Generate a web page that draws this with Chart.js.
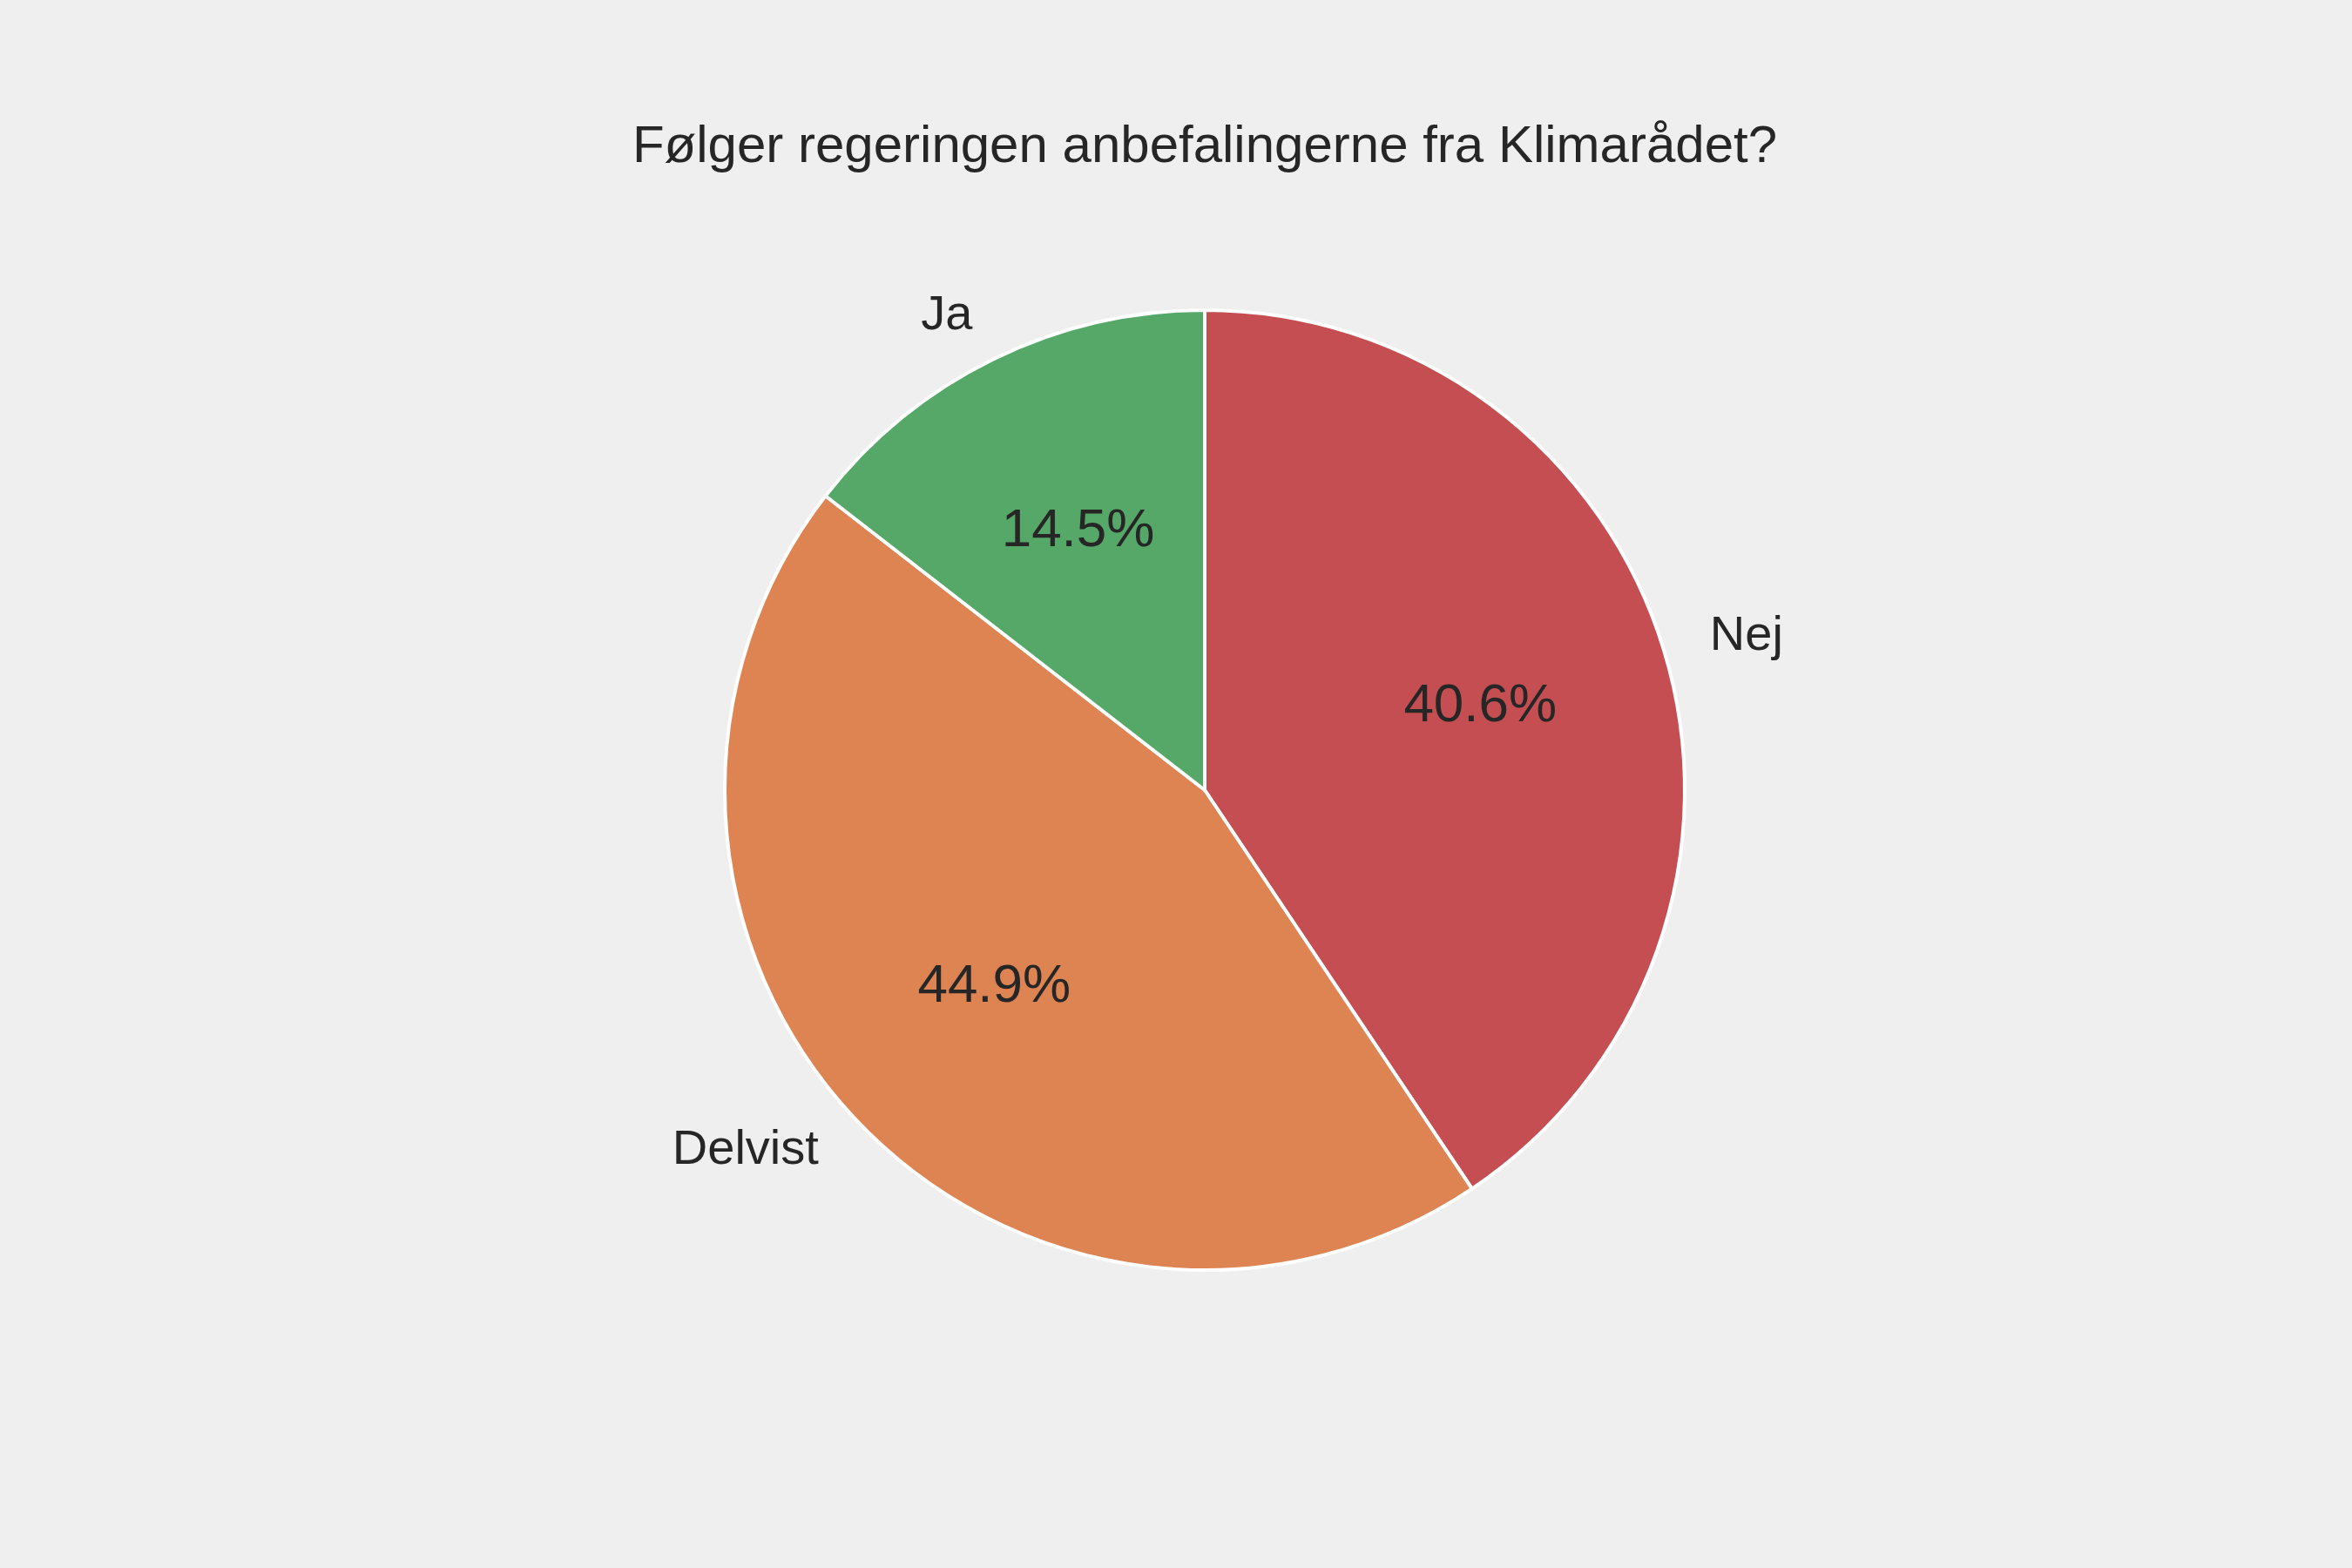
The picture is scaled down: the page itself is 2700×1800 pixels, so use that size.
<!DOCTYPE html>
<html>
<head>
<meta charset="utf-8">
<script src="https://cdn.jsdelivr.net/npm/chart.js@4"></script>
<style>
  html, body { margin: 0; padding: 0; background: #efefef; }
  #wrap { width: 2700px; height: 1800px; }
</style>
</head>
<body>
<div id="wrap"><canvas id="pie"></canvas></div>
<script>
const titleText = 'Følger regeringen anbefalingerne fra Klimarådet?';
const labels = ['Nej', 'Delvist', 'Ja'];
const values = [40.6, 44.9, 14.5];
const colors = ['#c44e52', '#dd8452', '#55a868'];

const FONT = '"Liberation Sans", Arial, sans-serif';

// draws title, outer labels and percentages like matplotlib's autopct
const textPlugin = {
  id: 'pieText',
  afterDraw(chart) {
    const ctx = chart.ctx;
    ctx.save();
    ctx.fillStyle = '#262626';
    ctx.textBaseline = 'middle';
    ctx.textAlign = 'center';
    ctx.font = '60px ' + FONT;
    ctx.fillText(titleText, 1383, 169);

    const meta = chart.getDatasetMeta(0);
    const total = values.reduce((a, b) => a + b, 0);
    meta.data.forEach((arc, i) => {
      const p = arc.getProps(['x', 'y', 'startAngle', 'endAngle', 'outerRadius'], true);
      const mid = (p.startAngle + p.endAngle) / 2;
      const c = Math.cos(mid), s = Math.sin(mid);
      const lx = p.x + c * p.outerRadius * 1.1;
      const ly = p.y + s * p.outerRadius * 1.1;
      ctx.font = '56px ' + FONT;
      ctx.textAlign = c >= 0 ? 'left' : 'right';
      ctx.fillText(labels[i], lx, ly);
      ctx.textAlign = 'center';
      ctx.font = '62px ' + FONT;
      const pct = (values[i] / total * 100).toFixed(1) + '%';
      ctx.fillText(pct, p.x + c * p.outerRadius * 0.6, p.y + s * p.outerRadius * 0.6);
    });
    ctx.restore();
  }
};

new Chart(document.getElementById('pie'), {
  type: 'pie',
  data: {
    labels: labels,
    datasets: [{
      data: values,
      backgroundColor: colors,
      borderColor: '#ffffff',
      borderWidth: 4
    }]
  },
  options: {
    responsive: true,
    maintainAspectRatio: false,
    animation: false,
    layout: { padding: { top: 354, bottom: 340, left: 66, right: 0 } },
    plugins: { legend: { display: false }, tooltip: { enabled: false } }
  },
  plugins: [textPlugin]
});
</script>
</body>
</html>
